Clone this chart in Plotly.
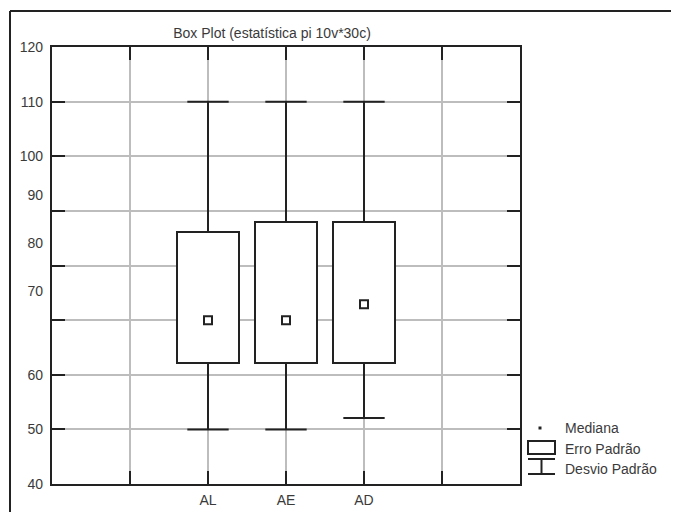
import plotly.graph_objects as go

# ---- data ----
categories = ["AL", "AE", "AD"]
cat_pos = [2, 3, 4]
medians = [70.0, 70.0, 72.9]
se_low = [62.1, 62.1, 62.1]      # Erro Padrão (box bottom)
se_high = [86.1, 88.0, 88.0]     # Erro Padrão (box top)
sd_low = [50.0, 50.0, 52.1]      # Desvio Padrão (lower whisker)
sd_high = [110.0, 110.0, 110.0]  # Desvio Padrão (upper whisker)

x_grid = [1, 2, 3, 4, 5]
x_ticktext = ["", "AL", "AE", "AD", ""]
y_grid = [40, 50, 60, 70, 80, 90, 100, 110, 120]
# tick labels as they appear in the reference (some offset from gridlines)
y_label_pos = [120, 110, 100, 92.9, 84.1, 75.3, 60, 50, 40]
y_label_text = ["120", "110", "100", "90", "80", "70", "60", "50", "40"]

title_text = "Box Plot (estatística pi 10v*30c)"

DARK = "#222222"
GRID = "#bdbdbd"
TXT = "#3a3a3a"
FONT = "Liberation Sans, Arial, sans-serif"
box_w = 0.79
cap_half = 0.265

# page body has an 8px margin; figure coordinates are offset by it
OFF = 8
W, H = 679 - OFF, 512 - OFF
L, T, R, B = 52 - OFF, 47 - OFF, 520 - OFF, 484 - OFF

fig = go.Figure()

# boxes (standard error)
fig.add_trace(go.Bar(
    x=cat_pos, base=se_low, y=[h - l for h, l in zip(se_high, se_low)],
    width=box_w, marker=dict(color="white", line=dict(color=DARK, width=2)),
    showlegend=False, hoverinfo="skip"))

# whiskers (standard deviation)
wx, wy = [], []
for p, lo, hi, bl, bh in zip(cat_pos, sd_low, sd_high, se_low, se_high):
    wx += [p, p, None, p, p, None, p - cap_half, p + cap_half, None, p - cap_half, p + cap_half, None]
    wy += [bh, hi, None, bl, lo, None, hi, hi, None, lo, lo, None]
fig.add_trace(go.Scatter(x=wx, y=wy, mode="lines", line=dict(color=DARK, width=2),
                         showlegend=False, hoverinfo="skip"))

# medians
fig.add_trace(go.Scatter(x=cat_pos, y=medians, mode="markers",
                         marker=dict(symbol="square-open", size=8, color=DARK,
                                     line=dict(width=2, color=DARK)),
                         showlegend=False))

fig.update_layout(
    width=W, height=H,
    margin=dict(l=L, r=W - R, t=T, b=H - B),
    paper_bgcolor="white", plot_bgcolor="white",
    font=dict(family=FONT, size=14, color=TXT),
    bargap=0,
    title=dict(text=title_text, x=(272 - OFF) / W, xanchor="center", y=1 - (33 - OFF) / H,
               yanchor="middle", font=dict(size=14, color=TXT)),
    xaxis=dict(range=[0, 6], tickvals=x_grid, ticktext=x_ticktext,
               showgrid=True, gridcolor=GRID, gridwidth=1.5,
               ticks="inside", ticklen=13, tickwidth=2, tickcolor=DARK,
               showline=True, linecolor=DARK, linewidth=2, mirror="ticks",
               zeroline=False, tickfont=dict(size=14, color=TXT), ticklabelstandoff=2,
               automargin=False),
    yaxis=dict(range=[40, 120], tickvals=y_grid, showticklabels=False,
               showgrid=True, gridcolor=GRID, gridwidth=1.5,
               ticks="inside", ticklen=13, tickwidth=2, tickcolor=DARK,
               showline=True, linecolor=DARK, linewidth=2, mirror="ticks",
               zeroline=False, automargin=False),
    yaxis2=dict(range=[40, 120], overlaying="y", side="left",
                tickvals=y_label_pos, ticktext=y_label_text,
                showgrid=False, zeroline=False, showline=False, ticks="",
                tickfont=dict(size=14, color=TXT), ticklabelstandoff=8,
                automargin=False),
    showlegend=False,
)

# invisible trace to activate yaxis2
fig.add_trace(go.Scatter(x=[None], y=[None], yaxis="y2", showlegend=False, hoverinfo="skip"))

def px(x):
    return (x - OFF - L) / (R - L)

def py(y):
    return (B - (y - OFF)) / (B - T)

# outer frame (left and top edges)
fig.add_shape(type="line", xref="paper", yref="paper",
              x0=px(10), x1=px(10), y0=py(11), y1=py(530),
              line=dict(color=DARK, width=2))
fig.add_shape(type="line", xref="paper", yref="paper",
              x0=px(10), x1=px(700), y0=py(11), y1=py(11),
              line=dict(color=DARK, width=2))

# custom legend
fig.add_shape(type="rect", xref="paper", yref="paper",
              x0=px(538.5), x1=px(541.5), y0=py(429.5), y1=py(426.5),
              fillcolor=DARK, line=dict(width=0))
fig.add_shape(type="rect", xref="paper", yref="paper",
              x0=px(528), x1=px(555), y0=py(454), y1=py(441),
              fillcolor="white", line=dict(color=DARK, width=2))
fig.add_shape(type="line", xref="paper", yref="paper",
              x0=px(528), x1=px(555), y0=py(459), y1=py(459), line=dict(color=DARK, width=2))
fig.add_shape(type="line", xref="paper", yref="paper",
              x0=px(541.5), x1=px(541.5), y0=py(459), y1=py(474), line=dict(color=DARK, width=2))
fig.add_shape(type="line", xref="paper", yref="paper",
              x0=px(528), x1=px(555), y0=py(474), y1=py(474), line=dict(color=DARK, width=2))

legend_items = ["Mediana", "Erro Padrão", "Desvio Padrão"]
legend_y = [428, 449, 469]
for t, yy in zip(legend_items, legend_y):
    fig.add_annotation(text=t, xref="paper", yref="paper", x=px(563), y=py(yy),
                       xanchor="left", yanchor="middle", showarrow=False,
                       font=dict(size=14, color=TXT))

fig.write_html("out.html")
